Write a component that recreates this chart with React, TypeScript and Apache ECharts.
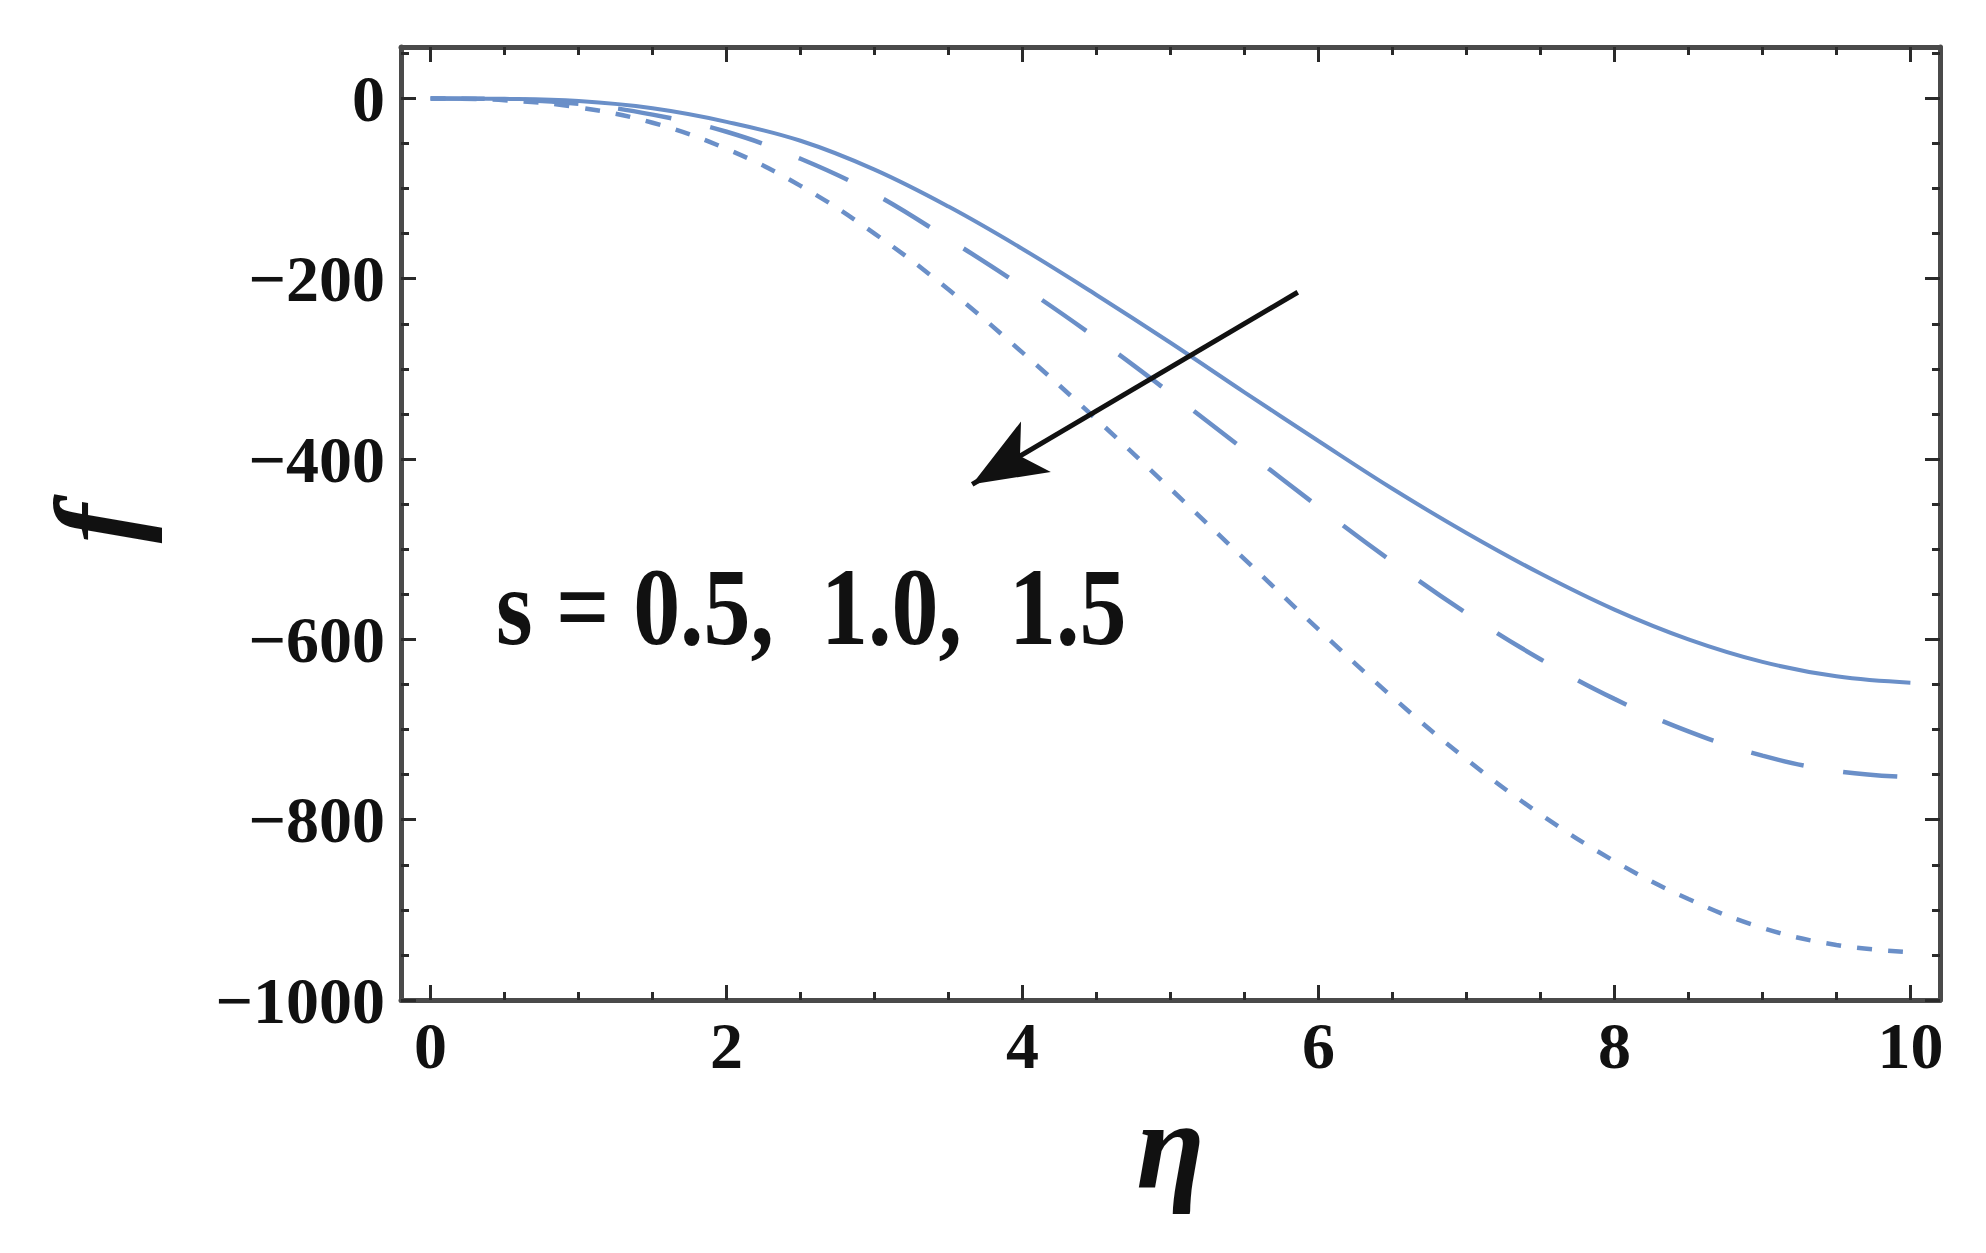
import React, { useEffect, useRef } from "react";
import * as echarts from "echarts";

// eta grid (x values)
const etaValues = [0, 0.5, 1, 1.5, 2, 2.5, 3, 3.5, 4, 4.5, 5, 5.5, 6, 6.5, 7, 7.5, 8, 8.5, 9, 9.5, 10];
// f(eta) for s = 0.5 (solid)
const fS05 = [0, -0.5, -3, -11, -26, -47, -79, -120, -167, -218, -271, -326, -380, -433, -482, -527, -567, -600, -625, -641, -648];
// f(eta) for s = 1.0 (long dashes)
const fS10 = [0, -1, -6, -18, -37, -67, -106, -156, -209, -266, -327, -390, -453, -514, -571, -622, -666, -702, -729, -746, -753];
// f(eta) for s = 1.5 (short dashes)
const fS15 = [0, -2, -10, -27, -56, -97, -150, -212, -282, -356, -433, -511, -589, -664, -733, -794, -846, -888, -920, -939, -947];

const xMajorTicks = [0, 2, 4, 6, 8, 10];
const xMinorTicks = [0, 0.5, 1, 1.5, 2, 2.5, 3, 3.5, 4, 4.5, 5, 5.5, 6, 6.5, 7, 7.5, 8, 8.5, 9, 9.5, 10];
const yMajorTicks = [0, -200, -400, -600, -800, -1000];
const yMinorTicks = [50, 0, -50, -100, -150, -200, -250, -300, -350, -400, -450, -500, -550, -600, -650, -700, -750, -800, -850, -900, -950, -1000];

const arrowStart = [5.86, -215];
const arrowEnd = [3.66, -428];
const annotationText = "s = 0.5,  1.0,  1.5";
const xName = "η";
const yName = "f";

const FONT = "Liberation Serif";
const LINE_COLOR = "#6a8fc8";
const FRAME = { show: true, onZero: false, lineStyle: { color: "#4a4a4a", width: 5 } };
const TICK_STYLE = { color: "#2a2a2a", width: 3 };
const minus = (v: number) => String(v).replace("-", "\u2212");

function xAxisPair(position: "bottom" | "top", withLabels: boolean) {
  const base = { type: "value", position, min: -0.2, max: 10.2, splitLine: { show: false } };
  return [
    {
      ...base,
      axisLine: FRAME,
      axisTick: { show: true, inside: true, length: 15, customValues: xMajorTicks, lineStyle: TICK_STYLE },
      axisLabel: withLabels
        ? { show: true, customValues: xMajorTicks, fontFamily: FONT, fontSize: 66, fontWeight: "bold", color: "#111", margin: 12, formatter: minus }
        : { show: false },
      ...(withLabels
        ? {
            name: xName,
            nameLocation: "middle",
            nameGap: 76,
            nameTextStyle: { fontFamily: FONT, fontSize: 125, fontStyle: "italic", fontWeight: "bold", color: "#111" },
          }
        : {}),
    },
    {
      ...base,
      axisLine: { show: false, onZero: false },
      axisTick: { show: true, inside: true, length: 8, customValues: xMinorTicks, lineStyle: TICK_STYLE },
      axisLabel: { show: false },
    },
  ];
}

function yAxisPair(position: "left" | "right", withLabels: boolean) {
  const base = { type: "value", position, min: -1000, max: 57, splitLine: { show: false } };
  return [
    {
      ...base,
      axisLine: FRAME,
      axisTick: { show: true, inside: true, length: 15, customValues: yMajorTicks, lineStyle: TICK_STYLE },
      axisLabel: withLabels
        ? { show: true, customValues: yMajorTicks, fontFamily: FONT, fontSize: 66, fontWeight: "bold", color: "#111", margin: 16, formatter: minus }
        : { show: false },
      ...(withLabels
        ? {
            name: yName,
            nameLocation: "middle",
            nameGap: 245,
            nameTextStyle: { fontFamily: FONT, fontSize: 118, fontStyle: "italic", fontWeight: "bold", color: "#111" },
          }
        : {}),
    },
    {
      ...base,
      axisLine: { show: false, onZero: false },
      axisTick: { show: true, inside: true, length: 8, customValues: yMinorTicks, lineStyle: TICK_STYLE },
      axisLabel: { show: false },
    },
  ];
}

export default function App() {
  const ref = useRef<HTMLDivElement>(null);
  useEffect(() => {
    if (!ref.current) return;
    const chart = echarts.init(ref.current, null, { renderer: "svg" });
    const mk = (vals: number[]) => etaValues.map((x, i) => [x, vals[i]]);
    chart.setOption({
      animation: false,
      backgroundColor: "#ffffff",
      grid: { left: 401, right: 46, top: 47, bottom: 253, containLabel: false },
      xAxis: [...xAxisPair("bottom", true), ...xAxisPair("top", false)],
      yAxis: [...yAxisPair("left", true), ...yAxisPair("right", false)],
      series: [
        {
          type: "line",
          name: "s = 0.5",
          data: mk(fS05),
          xAxisIndex: 0,
          yAxisIndex: 0,
          smooth: 0.4,
          showSymbol: false,
          lineStyle: { color: LINE_COLOR, width: 4, type: "solid" },
          emphasis: { disabled: true },
          markLine: {
            silent: true,
            symbol: ["none", "arrow"],
            symbolSize: [44, 74],
            label: { show: false },
            lineStyle: { type: "solid", color: "#111", width: 5 },
            emphasis: { disabled: true },
            data: [[{ coord: arrowStart }, { coord: arrowEnd }]],
          },
        },
        {
          type: "line",
          name: "s = 1.0",
          data: mk(fS10),
          xAxisIndex: 0,
          yAxisIndex: 0,
          smooth: 0.4,
          showSymbol: false,
          lineStyle: { color: LINE_COLOR, width: 4.5, type: [54, 40], cap: "butt" },
          emphasis: { disabled: true },
        },
        {
          type: "line",
          name: "s = 1.5",
          data: mk(fS15),
          xAxisIndex: 0,
          yAxisIndex: 0,
          smooth: 0.4,
          showSymbol: false,
          lineStyle: { color: LINE_COLOR, width: 4.5, type: [15, 16], cap: "butt" },
          emphasis: { disabled: true },
        },
      ],
      graphic: [
        {
          type: "text",
          x: 496,
          y: 606,
          originX: 0,
          originY: 0,
          scaleY: 1.18,
          style: {
            text: annotationText,
            font: `bold 94px "${FONT}"`,
            fill: "#111",
            align: "left",
            verticalAlign: "middle",
            textAlign: "left",
            textVerticalAlign: "middle",
          },
        },
      ],
    });
    return () => chart.dispose();
  }, []);
  return (
    <div
      ref={ref}
      style={{ position: "absolute", left: 0, top: 0, width: 1986, height: 1253, background: "#fff" }}
    />
  );
}
